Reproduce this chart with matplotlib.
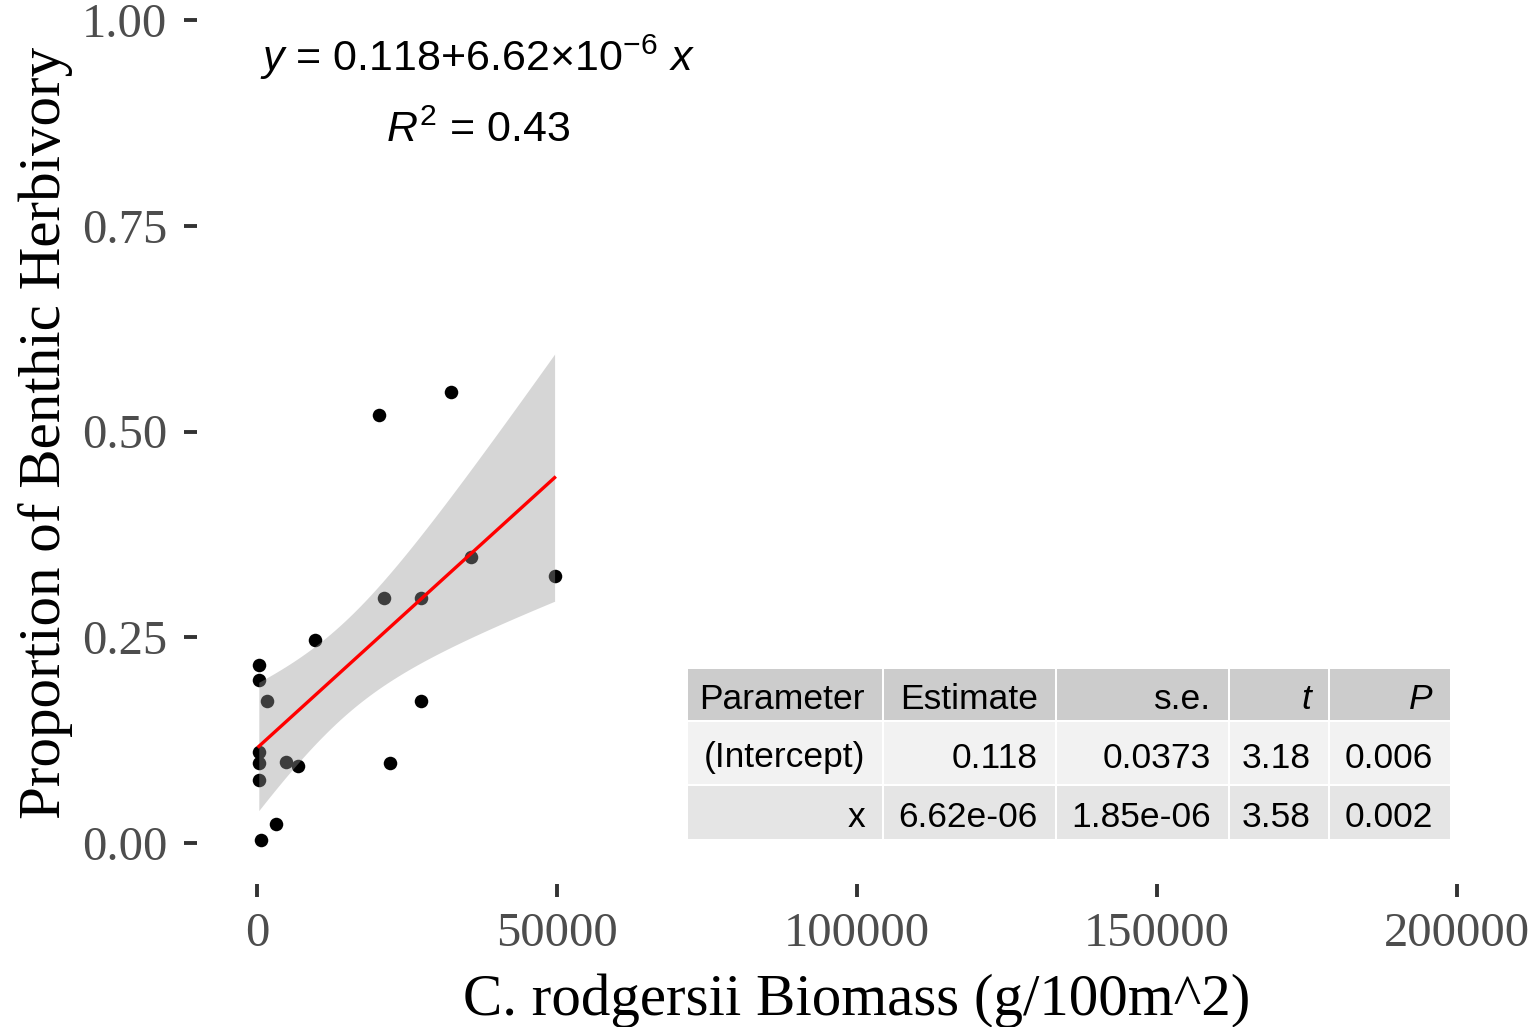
import matplotlib
matplotlib.use("Agg")
import matplotlib.pyplot as plt
import numpy as np
from matplotlib.patches import Rectangle

#--------------------------------------------------
#datos

biomass=[32300,20300,35600,49600,21200,27300,9600,300,300,1700,27300,300,300,4900,6900,22200,300,3100,700]
herb=[0.548,0.520,0.348,0.324,0.298,0.298,0.246,0.216,0.198,0.172,0.172,0.111,0.097,0.098,0.094,0.097,0.077,0.023,0.003]

x_ticks=[0,50000,100000,150000,200000]
y_ticks=[0.00,0.25,0.50,0.75,1.00]
y_ticklabels=["0.00","0.25","0.50","0.75","1.00"]

eq_text=r"$y$ = 0.118+6.62×10$^{-6}$ $x$"
r2_text=r"$R^2$ = 0.43"

tb_cols=["Parameter","Estimate","s.e.","t","P"]
tb_rows=[["(Intercept)","0.118","0.0373","3.18","0.006"],
         ["x","6.62e-06","1.85e-06","3.58","0.002"]]
t_crit=2.1098  # t(0.975, df=17)

#--------------------------------------------------
#ajuste lineal + banda de confianza

def ajuste(x,y):
    x=np.asarray(x,float); y=np.asarray(y,float)
    b,a=np.polyfit(x,y,1)
    n=len(x)
    res=y-(a+b*x)
    s=np.sqrt(np.sum(res**2)/(n-2))
    xs=np.linspace(x.min(),x.max(),80)
    fit=a+b*xs
    se=s*np.sqrt(1/n+(xs-x.mean())**2/np.sum((x-x.mean())**2))
    return xs,fit,fit-t_crit*se,fit+t_crit*se

xs,fit,lo,hi=ajuste(biomass,herb)

#--------------------------------------------------
#figura

plt.rcParams['mathtext.fontset']='custom'
plt.rcParams['mathtext.rm']='Liberation Sans'
plt.rcParams['mathtext.it']='Liberation Sans:italic'

W,H=1537,1027
fig=plt.figure(figsize=(W/100,H/100),dpi=100)

def px(x,y):
    return x/W,1-y/H

ax=fig.add_axes([197/W,(H-884)/H,1320/W,905/H])
ax.set_xlim(-10000,210000)
ax.set_ylim(-0.05,1.05)
for s in ax.spines.values():
    s.set_visible(False)
ax.patch.set_alpha(0)

ax.scatter(biomass,herb,s=95,color="black",linewidths=0,zorder=1)
ax.fill_between(xs,lo,hi,color="#999999",alpha=0.4,linewidth=0,zorder=2)
ax.plot(xs,fit,color="red",lw=2.4,zorder=3)

ax.set_xticks(x_ticks)
ax.set_xticklabels([str(v) for v in x_ticks])
ax.set_yticks(y_ticks)
ax.set_yticklabels(y_ticklabels)
ax.tick_params(length=9.4,width=2.8,color="#333333",labelcolor="#4D4D4D",labelsize=35)
ax.tick_params(axis="x",pad=11)
ax.tick_params(axis="y",pad=12)
for lab in ax.get_xticklabels()+ax.get_yticklabels():
    lab.set_family("Liberation Serif")

fig.text(*px(857,1015),"C. rodgersii Biomass (g/100m^2)",family="Liberation Serif",
         fontsize=42.5,ha="center",va="baseline")
fig.text(*px(60,433),"Proportion of Benthic Herbivory",family="Liberation Serif",
         fontsize=42.5,ha="center",va="baseline",rotation=90,rotation_mode="anchor")

#ecuacion
fig.text(*px(477,57),eq_text,family="Liberation Sans",fontsize=31,ha="center",va="center")
fig.text(*px(478,131),r2_text,family="Liberation Sans",fontsize=31,ha="center",va="center")

#tabla
col_edges=[687,883,1056,1229,1329,1451]
row_edges=[668,721,785,840]
fills=["#CCCCCC","#F2F2F2","#E5E5E5"]
tabla=[tb_cols]+tb_rows
for i,fila in enumerate(tabla):
    y0,y1=row_edges[i],row_edges[i+1]
    for j,txt in enumerate(fila):
        x0,x1=col_edges[j],col_edges[j+1]
        fx,fy=px(x0+1,y1-1)
        fig.add_artist(Rectangle((fx,fy),(x1-x0-2)/W,(y1-y0-2)/H,transform=fig.transFigure,
                                 facecolor=fills[i],edgecolor="none"))
        estilo="italic" if (i==0 and txt in ("t","P")) else "normal"
        fig.text(*px(x1-18,(y0+y1)/2+5),txt,family="Liberation Sans",fontsize=25.5,
                 style=estilo,ha="right",va="center")

fig.savefig("out.png",dpi=100)
